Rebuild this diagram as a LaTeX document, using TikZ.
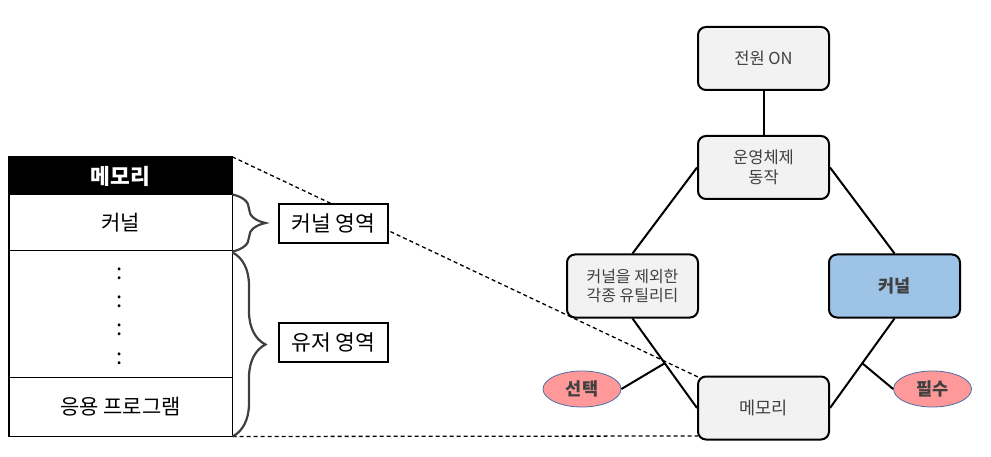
\documentclass[tikz,border=0pt]{standalone}
\usepackage{fontspec}
\setmainfont{Noto Sans CJK KR}
\usetikzlibrary{shapes.geometric,decorations.pathreplacing,calc}
\definecolor{boxgray}{HTML}{F2F2F2}
\definecolor{kblue}{HTML}{9DC3E6}
\definecolor{epink}{HTML}{FF9999}
\definecolor{eline}{HTML}{4A6FA5}
\definecolor{txtgray}{HTML}{404040}
\begin{document}
\begin{tikzpicture}[x=1pt,y=-1pt,
  flowbox/.style={draw=black, line width=2pt, rounded corners=8pt, fill=boxgray,
    minimum width=131pt, minimum height=63pt, inner sep=0pt, align=center,
    text=txtgray, font=\fontsize{16.5}{20}\selectfont},
  optell/.style={ellipse, draw=eline, line width=0.8pt, fill=epink, minimum width=78pt,
    minimum height=36pt, inner sep=0pt, text=txtgray, font=\fontsize{17.5}{19}\selectfont\bfseries},
  conn/.style={draw=black, line width=2pt},
  dashline/.style={draw=black, line width=1.3pt, dash pattern=on 4pt off 3pt},
  memrow/.style={draw=black, line width=1pt, fill=white, minimum width=223pt,
    inner sep=0pt, font=\fontsize{21}{24}\selectfont},
  memhead/.style={fill=black, minimum width=223pt, minimum height=38pt, inner sep=0pt,
    text=white, font=\fontsize{21.5}{24}\selectfont\bfseries},
  lbl/.style={draw=black, line width=1.2pt, fill=white, minimum width=109pt,
    minimum height=39pt, inner sep=0pt, font=\fontsize{21.5}{24}\selectfont},
  bracestyle/.style={draw=black!75, line width=2.2pt, decorate,
    decoration={brace, amplitude=33pt}},
  colon/.style={inner sep=0pt, font=\fontsize{22}{22}\selectfont}
]
\useasboundingbox (0,0) rectangle (991,457);

% memory block
\node[memhead] (mh) at (120.5,176) {메모리};
\node[memrow, minimum height=56pt] (mk) at (120.5,223) {커널};
\node[memrow, minimum height=126pt] (md) at (120.5,314) {};
\node[memrow, minimum height=59pt] (ma) at (120.5,406.5) {응용 프로그램};
\draw[line width=1.5pt] (mh.north west) rectangle (ma.south east);
\node[colon] (c1) at (120,274) {:};
\node[colon] (c2) at (120,302) {:};
\node[colon] (c3) at (120,330) {:};
\node[colon] (c4) at (120,359) {:};

% right nodes
\node[flowbox] (pw) at (763.5,58.5) {전원 ON};
\node[flowbox] (os) at (763.5,167.5) {운영체제\\동작};
\node[flowbox, font=\fontsize{16}{18.5}\selectfont] (ut) at (632.5,286) {커널을 제외한\\각종 유틸리티};
\node[flowbox, fill=kblue, font=\fontsize{17.5}{20}\selectfont\bfseries] (kn) at (894.5,286) {커널};

% dashed guides
\draw[dashline] (mh.north east) -- (763.5-65.5,377);
\draw[dashline] (ma.south east) -- (698,436);

\node[flowbox, font=\fontsize{17.5}{20}\selectfont] (mem) at (763.5,408) {메모리};
\node[optell] (sel) at (582,389) {선택};
\node[optell] (req) at (932.5,389) {필수};

% braces
\draw[bracestyle] (mk.north east) -- (mk.south east);
\draw[bracestyle] ([yshift=-2pt]md.north east) -- (ma.south east);

% labels
\node[lbl] (lk) at (333.5,223.5) {커널 영역};
\node[lbl] (lu) at (333.5,342.5) {유저 영역};

% connectors
\draw[conn] (pw) -- (os);
\draw[conn] (os.west) -- (ut.north);
\draw[conn] (os.east) -- (kn.north);
\draw[conn] (ut.south) -- (mem.west);
\draw[conn] (kn.south) -- (mem.east);
\coordinate (m1) at ($(ut.south)!0.5!(mem.west)$);
\coordinate (m2) at ($(kn.south)!0.5!(mem.east)$);
\draw[conn] (sel.east) -- (m1);
\draw[conn] (req.west) -- (m2);
\end{tikzpicture}
\end{document}
